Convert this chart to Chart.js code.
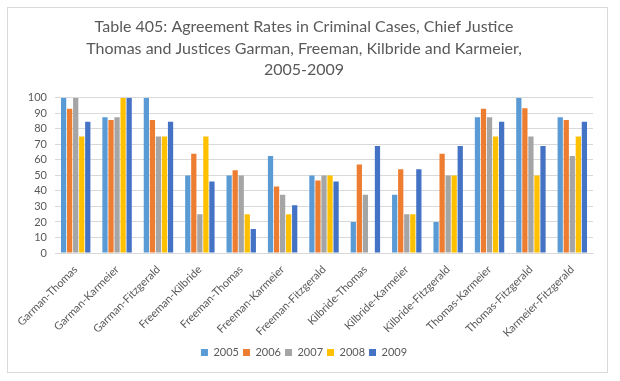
<!DOCTYPE html>
<html>
<head>
<meta charset="utf-8">
<script src="https://cdn.jsdelivr.net/npm/chart.js@4"></script>
<style>
  html, body { margin: 0; padding: 0; background: #ffffff; }
  #frame { position: absolute; left: 7px; top: 7px; width: 599px; height: 364px; border: 1px solid #d9d9d9; background: #fff; }
  canvas { display: block; }
</style>
</head>
<body>
<div id="frame"><canvas id="c" width="599" height="364"></canvas></div>
<script>
const categories = ["Garman-Thomas","Garman-Karmeier","Garman-Fitzgerald","Freeman-Kilbride","Freeman-Thomas","Freeman-Karmeier","Freeman-Fitzgerald","Kilbride-Thomas","Kilbride-Karmeier","Kilbride-Fitzgerald","Thomas-Karmeier","Thomas-Fitzgerald","Karmeier-Fitzgerald"];
const seriesNames = ["2005","2006","2007","2008","2009"];
const v2005 = [100, 87.5, 100, 50, 50, 62.5, 50, 20, 37.5, 20, 87.5, 100, 87.5];
const v2006 = [92.9, 85.7, 85.7, 64, 53.3, 42.9, 46.7, 57.1, 54, 64, 92.9, 93.3, 85.7];
const v2007 = [100, 87.5, 75, 25, 50, 37.5, 50, 37.5, 25, 50, 87.5, 75, 62.5];
const v2008 = [75, 100, 75, 75, 25, 25, 50, 0, 25, 50, 75, 50, 75];
const v2009 = [84.6, 100, 84.6, 46, 15.4, 30.8, 46, 69, 54, 69, 84.6, 69, 84.6];
const yTicks = [0,10,20,30,40,50,60,70,80,90,100];
const titleLines = ["Table 405: Agreement Rates in Criminal Cases, Chief Justice","Thomas and Justices Garman, Freeman, Kilbride and Karmeier,","2005-2009"];
const colors = ["#5B9BD5","#ED7D31","#A5A5A5","#FFC000","#4472C4"];
const allValues = [v2005, v2006, v2007, v2008, v2009];

const FONT = "Lato, 'Open Sans', sans-serif";
const TXT = "#595959";

new Chart(document.getElementById('c'), {
  type: 'bar',
  data: {
    labels: categories,
    datasets: seriesNames.map((n, i) => ({
      label: n,
      data: allValues[i],
      backgroundColor: colors[i],
      borderWidth: 0,
      categoryPercentage: 0.73,
      barPercentage: 0.87
    }))
  },
  options: {
    responsive: false,
    animation: false,
    devicePixelRatio: 1,
    layout: { padding: { left: 7, right: 14, top: 0, bottom: 4 } },
    plugins: {
      title: {
        display: true,
        text: titleLines,
        color: TXT,
        font: { family: FONT, size: 16, weight: 'normal', lineHeight: 1.35 },
        padding: { top: 8, bottom: 17 }
      },
      legend: {
        position: 'bottom',
        labels: {
          color: TXT,
          font: { family: FONT, size: 11 },
          boxWidth: 7,
          boxHeight: 7,
          padding: 4
        }
      },
      tooltip: { enabled: false }
    },
    scales: {
      y: {
        min: 0,
        max: 100,
        afterBuildTicks: (s) => { s.ticks = yTicks.map(v => ({ value: v })); },
        border: { display: false },
        grid: { color: '#d9d9d9', drawTicks: false },
        ticks: { color: TXT, font: { family: FONT, size: 11 }, padding: 8, autoSkip: false, stepSize: 10 },
        afterFit: (s) => { s.width = 40; }
      },
      x: {
        border: { display: true, color: '#d9d9d9' },
        grid: { display: false },
        ticks: { color: TXT, font: { family: FONT, size: 11 }, minRotation: 45, maxRotation: 45, autoSkip: false, padding: 2 },
        afterFit: (s) => { s.height = 90; }
      }
    }
  }
});
</script>
</body>
</html>
